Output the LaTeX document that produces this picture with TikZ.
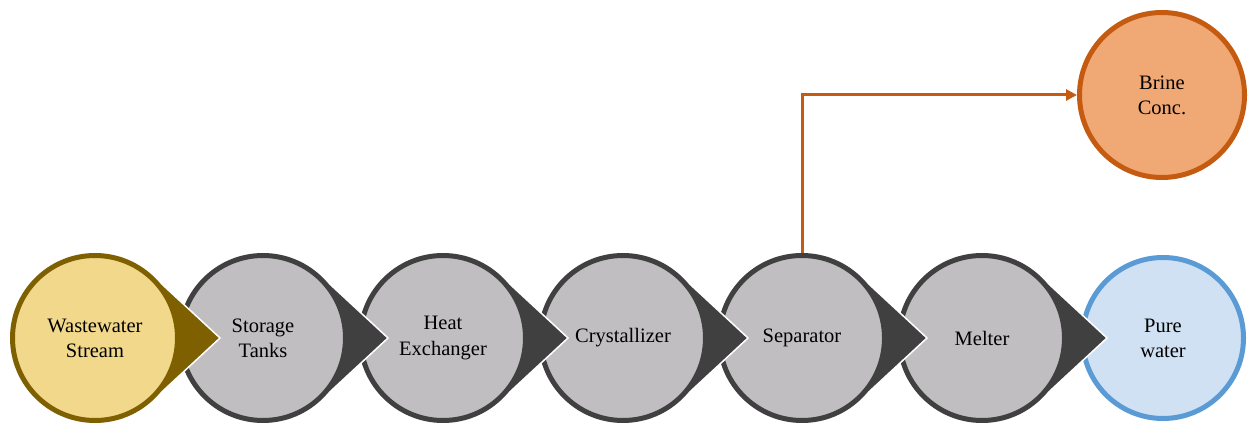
\documentclass[tikz,border=0pt]{standalone}
\usepackage{fontspec}
\setmainfont{Liberation Serif}
\newfontfamily\stagefont{Liberation Serif}
\usetikzlibrary{arrows.meta,calc}
\definecolor{graydark}{HTML}{404040}
\definecolor{graylight}{HTML}{C0BEC0}
\definecolor{golddark}{HTML}{7F6000}
\definecolor{goldlight}{HTML}{F1D88B}
\definecolor{bluedark}{HTML}{5B9BD5}
\definecolor{bluelight}{HTML}{D0E1F3}
\definecolor{orangedark}{HTML}{C55A11}
\definecolor{orangelight}{HTML}{F0A875}
\tikzset{
  stage/.style={circle, minimum size=165pt, inner sep=0pt, line width=5pt,
    align=center, text=black, font=\stagefont\fontsize{20.5}{25}\selectfont},
  graystage/.style={stage, fill=graylight, draw=graydark},
  tailshape/.style={line width=1.5pt, draw=white, line join=round},
  flow/.style={draw=orangedark, line width=3pt,
    -{Triangle[length=11pt,width=11pt]}},
}
% pointed tail of a stage: tip 125pt right of the centre, sides tangent to the rim
\newcommand\stagetail[2]{%
  \filldraw[tailshape, fill=#2] ($(#1)+(125,0)$) -- ($(#1)+(47.2:85)$) -- (#1)
    -- ($(#1)+(-47.2:85)$) -- cycle;}
\begin{document}
\begin{tikzpicture}[x=1pt,y=1pt]
\useasboundingbox (0,0) rectangle (1249,423);
% stages are drawn right to left so each tail lies over the next circle
\node[stage, minimum size=161pt, fill=bluelight, draw=bluedark] (pw) at (1163,85) {Pure\\water};

\coordinate (cmel) at (982,85);
\stagetail{cmel}{graydark}
\node[graystage] (mel) at (cmel) {Melter};

\coordinate (csep) at (802,85);
\stagetail{csep}{graydark}
\node[graystage] (sep) at (csep) {Separator};

\coordinate (ccr) at (623,85);
\stagetail{ccr}{graydark}
\node[graystage] (cr) at (ccr) {Crystallizer};

\coordinate (chx) at (443,85);
\stagetail{chx}{graydark}
\node[graystage] (hx) at (chx) {Heat\\Exchanger};

\coordinate (cst) at (263,85);
\stagetail{cst}{graydark}
\node[graystage] (st) at (cst) {Storage\\Tanks};

\coordinate (cww) at (95,85);
\stagetail{cww}{golddark}
\node[stage, fill=goldlight, draw=golddark] (ww) at (cww) {Wastewater\\Stream};

% brine branch
\node[stage, fill=orangelight, draw=orangedark] (br) at (1162,328) {Brine\\Conc.};
\draw[flow] (sep.north) |- (br.west);
\end{tikzpicture}
\end{document}
